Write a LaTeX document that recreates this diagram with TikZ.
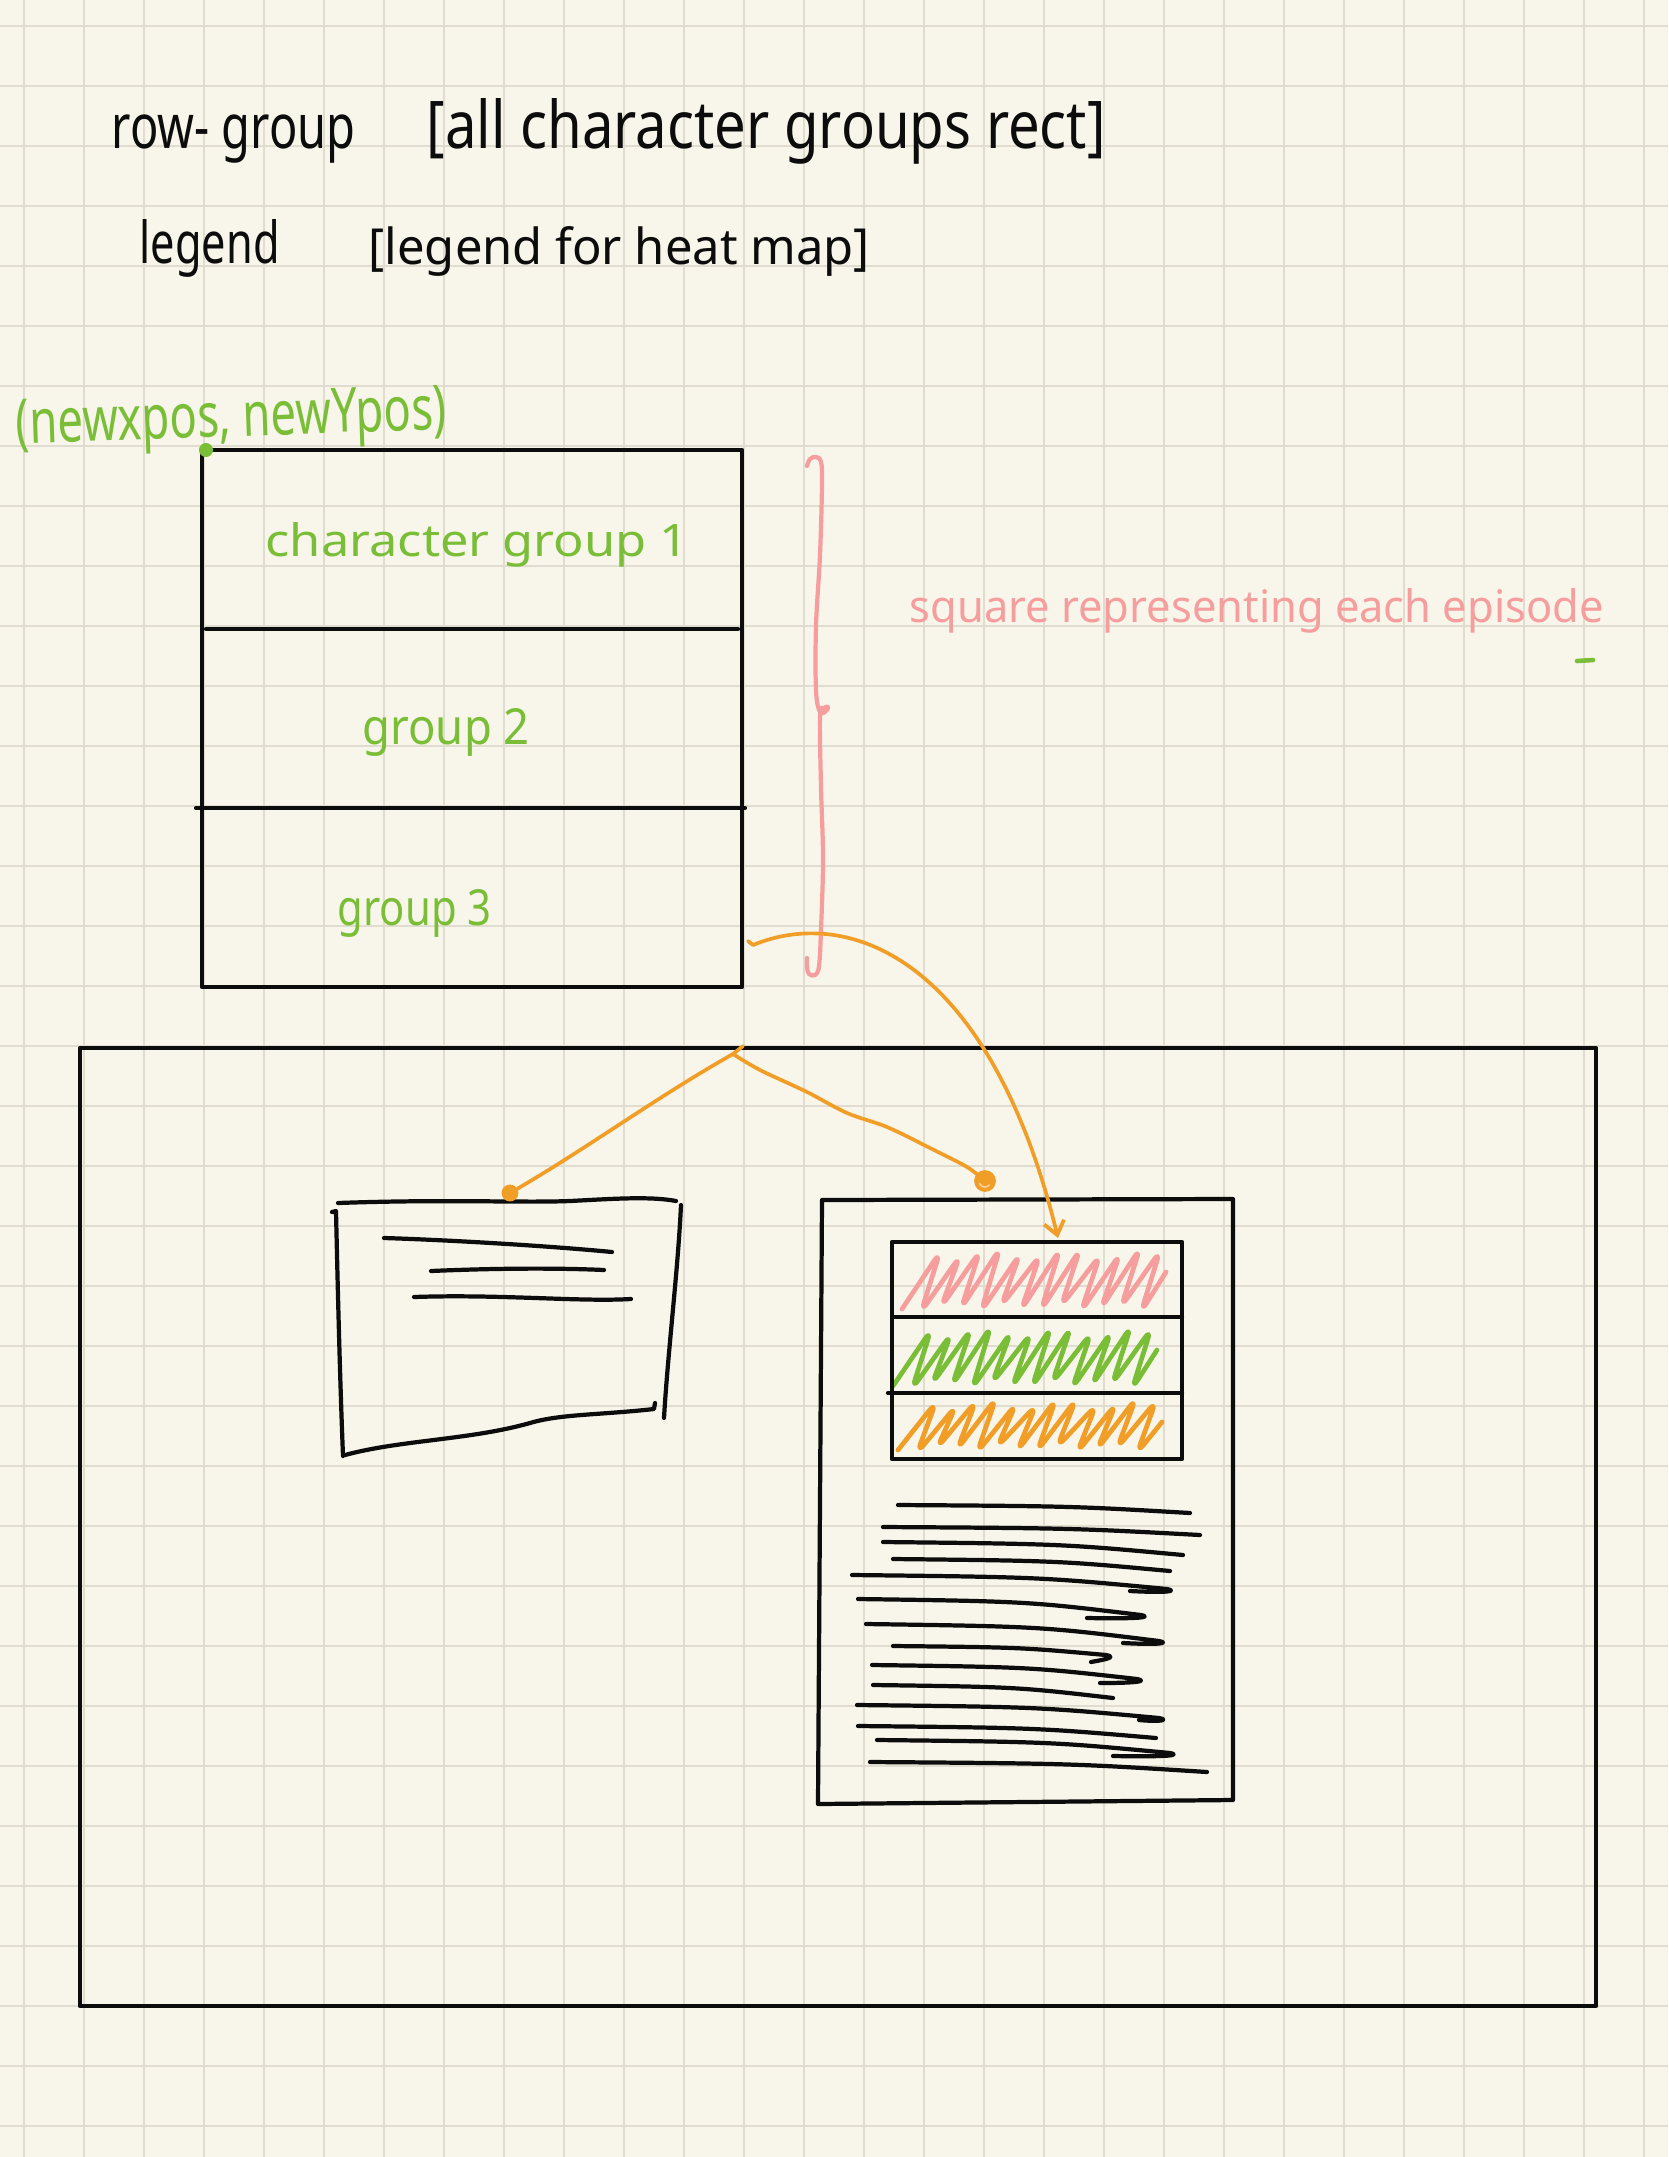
\documentclass[tikz,border=0pt]{standalone}
\usepackage{fontspec}
\setmainfont{Noto Sans}
\usepackage{graphicx}
\usetikzlibrary{arrows.meta,calc}

\definecolor{paper}{RGB}{248,246,234}
\definecolor{gridc}{RGB}{224,221,208}
\definecolor{ink}{RGB}{12,12,12}
\definecolor{leaf}{RGB}{122,190,56}
\definecolor{rose}{RGB}{246,158,158}
\definecolor{amber}{RGB}{240,158,40}
\definecolor{amberlight}{RGB}{250,208,150}

% one drawing unit = one pixel of the sheet
\newlength\pxu \setlength\pxu{0.01cm}
% handwritten-looking label squeezed to a given width and ascender height
\newcommand\hand[3]{\resizebox{#1\pxu}{#2\pxu}{\vphantom{[}#3}}
% a scrawled line of "text", flat at the start and sagging at the end
\newcommand\scrawl[4]{\draw[sketch] (#1,#2) .. controls ({#1+0.6*(#3-#1)},{#2+0.15*(#4-#2)}) .. (#3,#4);}
% the same with a short stroke doubling back at the end
\newcommand\scrawlback[6]{\draw[sketch] (#1,#2) .. controls ({#1+0.6*(#3-#1)},{#2+0.15*(#4-#2)}) .. (#3,#4) .. controls ({#3+10},{#4+2}) and ({#3+2},{#4+4}) .. (#5,#6);}
% slanted zigzag fill of one heat-map band: colour, left x, top y, bottom y, count
\newcommand\hatchband[5]{\draw[#1, scribble] (#2,#4) \foreach \i in {0,...,#5} { -- ({#2+\i*20+38},{#3+4*sin(\i*97)}) -- ({#2+\i*20+19},{#4+3*cos(\i*131)}) } -- ({#2+#5*20+44},{#3+20});}

\begin{document}
\begin{tikzpicture}[x=0.01cm, y=-0.01cm,
  gridline/.style={draw=gridc, line width=0.55pt},
  frame/.style={draw=ink, line width=1.2pt, line join=round, line cap=round},
  sketch/.style={draw=ink, line width=1.2pt, line cap=round, line join=round},
  txt/.style={inner sep=0pt, anchor=base west},
  wire/.style={draw=amber, line width=1.05pt, line cap=round, line join=round},
  scribble/.style={line width=1.35pt, line cap=round, line join=round, rounded corners=3pt},
]
\useasboundingbox (0,0) rectangle (1668,2157);
\fill[paper] (0,0) rectangle (1668,2157);

% squared paper
\foreach \gx in {24,84,...,1644} \draw[gridline] (\gx,0) -- (\gx,2157);
\foreach \gy in {26,86,...,2126} \draw[gridline] (0,\gy) -- (1668,\gy);

% header notes
\node[txt, text=ink] (rowgroup) at (111,148) {\hand{244}{44}{row- group}};
\node[txt, text=ink] (rowgroupnote) at (426,148) {\hand{679}{50}{[all character groups rect]}};
\node[txt, text=ink] (legend) at (139,263) {\hand{140}{44}{legend}};
\node[txt, text=ink] (legendnote) at (368,264) {\hand{501}{38}{[legend for heat map]}};

% row-group block with its origin
\node[txt, text=leaf, rotate=2] (pos) at (16,444) {\hand{431}{44}{(newxpos, newYpos)}};
\draw[frame] (202,450) rectangle (742,987);
\draw[frame] (206,629) -- (738,629);
\draw[frame] (196,808) -- (745,808);
\fill[leaf] (206,450) circle[radius=2pt];
\node[txt, text=leaf] (grp1) at (265,556) {\hand{423}{34}{character group 1}};
\node[txt, text=leaf] (grp2) at (362,744) {\hand{167}{36}{group 2}};
\node[txt, text=leaf] (grp3) at (337,925) {\hand{154}{36}{group 3}};

% brace and note on the right
\draw[rose, line width=1.2pt, line cap=round, line join=round]
  plot[smooth, tension=0.6] coordinates {(807,466) (810,459) (816,457) (821,462) (822,484) (820,555) (816,626) (816,690) (820,712) (826,711) (828,707) (824,708) (820,716) (821,787) (823,859) (821,930) (819,966) (815,975) (809,974) (807,967) (807,958)};
\node[txt, text=rose] (episodes) at (909,622) {\hand{694}{34}{square representing each episode}};
\draw[leaf, line width=1.3pt, line cap=round] (1577,661) -- (1593,660);

% outer panel
\draw[frame] (80,1048) rectangle (1596,2006);

% legend card (left)
\draw[sketch] (338,1203) .. controls (450,1199) and (520,1203) .. (570,1201) .. controls (610,1199) and (650,1196) .. (676,1201);
\draw[sketch] (681,1205) .. controls (678,1270) and (668,1350) .. (664,1418);
\draw[sketch] (655,1403) -- (654,1409) .. controls (600,1415) and (560,1414) .. (530,1423) .. controls (470,1440) and (400,1440) .. (345,1455);
\draw[sketch] (332,1212) -- (336,1211) .. controls (338,1300) and (340,1380) .. (343,1456);
\draw[sketch] (384,1238) .. controls (450,1240) and (550,1246) .. (612,1252);
\draw[sketch] (431,1271) .. controls (500,1268) and (560,1268) .. (604,1270);
\draw[sketch] (414,1297) .. controls (500,1294) and (580,1302) .. (631,1299);

% episode card (right): coloured bands
\hatchband{rose}{902}{1252}{1309}{11}
\hatchband{leaf}{893}{1330}{1386}{11}
\hatchband{amber}{898}{1402}{1450}{11}
\draw[frame] (892,1242) rectangle (1182,1459);
\draw[frame] (892,1317) -- (1182,1317);
\draw[frame] (888,1393) -- (1182,1393);
\draw[frame] (822,1200) -- (1233,1199) -- (1233,1800) -- (818,1804) -- cycle;

% episode card: scrawled text lines
\scrawl{898}{1505}{1190}{1513}
\scrawl{883}{1527}{1200}{1535}
\scrawl{883}{1542}{1183}{1555}
\scrawl{893}{1559}{1170}{1571}
\scrawlback{852}{1575}{1167}{1589}{1130}{1591}
\scrawlback{858}{1599}{1141}{1615}{1087}{1618}
\scrawlback{866}{1624}{1159}{1641}{1123}{1643}
\scrawlback{893}{1646}{1106}{1655}{1091}{1662}
\scrawlback{872}{1665}{1137}{1679}{1100}{1683}
\scrawl{873}{1685}{1113}{1698}
\scrawlback{857}{1705}{1159}{1718}{1139}{1720}
\scrawl{858}{1726}{1156}{1738}
\scrawlback{877}{1740}{1170}{1753}{1113}{1756}
\scrawl{870}{1762}{1207}{1772}

% orange connectors
\coordinate (hookStart) at (748,941);
\coordinate (aStart) at (753,945);
\coordinate (aEnd) at (1058,1238);
\draw[wire] (hookStart) -- (aStart);
\draw[wire, -{Straight Barb[length=3.8pt,width=5.8pt]}] (aStart) .. controls (850,905) and (990,960) .. (aEnd);

\coordinate (forkTop) at (743,1046);
\coordinate (fork) at (733,1054);
\coordinate (leftDot) at (510,1193);
\coordinate (rightDot) at (985,1181);
\draw[wire] (forkTop) -- (fork);
\draw[wire] (fork) .. controls (655,1098) and (585,1150) .. (leftDot);
\draw[wire] plot[smooth, tension=0.55] coordinates {(fork) (760,1070) (807,1092) (847,1113) (887,1127) (930,1148) (967,1167) (rightDot)};
\fill[amber] (leftDot) circle[radius=2.4pt];
\fill[amber] (rightDot) circle[radius=3.1pt];
\draw[amberlight, line width=0.45pt] (rightDot) ++(200:1.7pt) arc[start angle=200, end angle=320, radius=1.7pt];

\end{tikzpicture}
\end{document}
